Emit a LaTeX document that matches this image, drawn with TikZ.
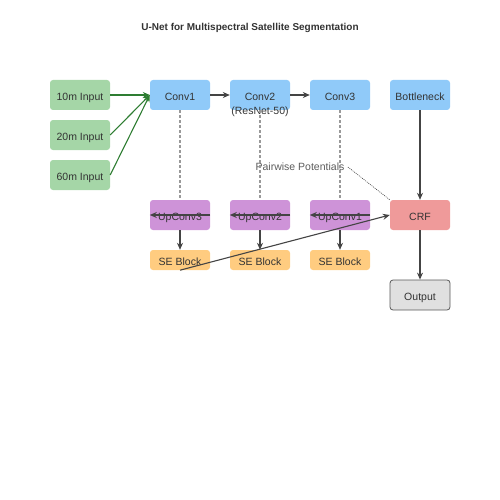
\documentclass[tikz,border=0pt]{standalone}
\usepackage{fontspec}
\setmainfont{Liberation Sans}
\usepackage{tikz}
\usetikzlibrary{arrows.meta}
\definecolor{inp}{HTML}{A5D6A7}
\definecolor{enc}{HTML}{90CAF9}
\definecolor{dec}{HTML}{CE93D8}
\definecolor{crf}{HTML}{EF9A9A}
\definecolor{seb}{HTML}{FFCC80}
\definecolor{outp}{HTML}{E0E0E0}
\definecolor{txt}{HTML}{333333}
\definecolor{edge}{HTML}{444444}
\definecolor{green}{HTML}{2E7D32}

\begin{document}
\begin{tikzpicture}[x=1pt, y=-1pt, >={Stealth[length=7pt, width=6pt]},
  box/.style={rounded corners=3pt, minimum width=60pt, minimum height=30pt,
    inner sep=0pt, text=txt, font=\fontsize{10.5}{12}\selectfont,
    text height=10.5pt, text depth=0pt},
  flow/.style={->, draw=edge, line width=1.1pt},
  skip/.style={draw=gray!80, line width=1.1pt, dash pattern=on 3pt off 2pt},
]
  \useasboundingbox (0, 0) rectangle (500, 500);

  \node[font=\bfseries\fontsize{10}{12}\selectfont, text=txt] (title) at (250, 27.5)
    {U-Net for Multispectral Satellite Segmentation};

  % inputs
  \node[box, fill=inp] (in10) at (80, 95) {10m Input};
  \node[box, fill=inp] (in20) at (80, 135) {20m Input};
  \node[box, fill=inp] (in60) at (80, 175) {60m Input};

  % encoder
  \node[box, fill=enc] (conv1) at (180, 95) {Conv1};
  \node[box, fill=enc] (conv2) at (260, 95) {Conv2};
  \node[box, fill=enc] (conv3) at (340, 95) {Conv3};
  \node[box, fill=enc] (bneck) at (420, 95) {Bottleneck};
  \node[text=txt, font=\fontsize{10.5}{12}\selectfont] (resnet) at (260, 112) {(ResNet-50)};

  % decoder
  \node[box, fill=dec] (up3) at (180, 215) {UpConv3};
  \node[box, fill=dec] (up2) at (260, 215) {UpConv2};
  \node[box, fill=dec] (up1) at (340, 215) {UpConv1};
  \node[box, fill=crf] (crf) at (420, 215) {CRF};

  \node[box, fill=seb, minimum height=20pt] (se3) at (180, 260) {SE Block};
  \node[box, fill=seb, minimum height=20pt] (se2) at (260, 260) {SE Block};
  \node[box, fill=seb, minimum height=20pt] (se1) at (340, 260) {SE Block};

  \node[box, fill=outp, draw=gray!70!black, line width=0.8pt] (out) at (420, 295) {Output};

  \node[text=txt!80, font=\fontsize{10.5}{12}\selectfont] (pair) at (300, 167) {Pairwise Potentials};

  % connections
  \foreach \s in {in10, in20, in60}
    \draw[->, draw=green, line width=1.1pt] (\s.east) -- (conv1.west);
  \draw[flow] (conv1) -- (conv2);
  \draw[flow] (conv2) -- (conv3);
  \draw[skip] (conv1) -- (up3);
  \draw[skip] (conv2) -- (up2);
  \draw[skip] (conv3) -- (up1);
  \draw[flow] (bneck) -- (crf);
  \foreach \u/\e in {up3/se3, up2/se2, up1/se1} {
    \draw[flow] (\u.east) -- (\u.west);
    \draw[flow] (\u) -- (\e);
  }
  \draw[flow] (se3.south) -- (crf.west);
  \draw[flow] (crf) -- (out);
  \draw[draw=edge, line width=0.6pt, dash pattern=on 1pt off 1pt] (pair.east) -- (crf.north west);

\end{tikzpicture}
\end{document}
